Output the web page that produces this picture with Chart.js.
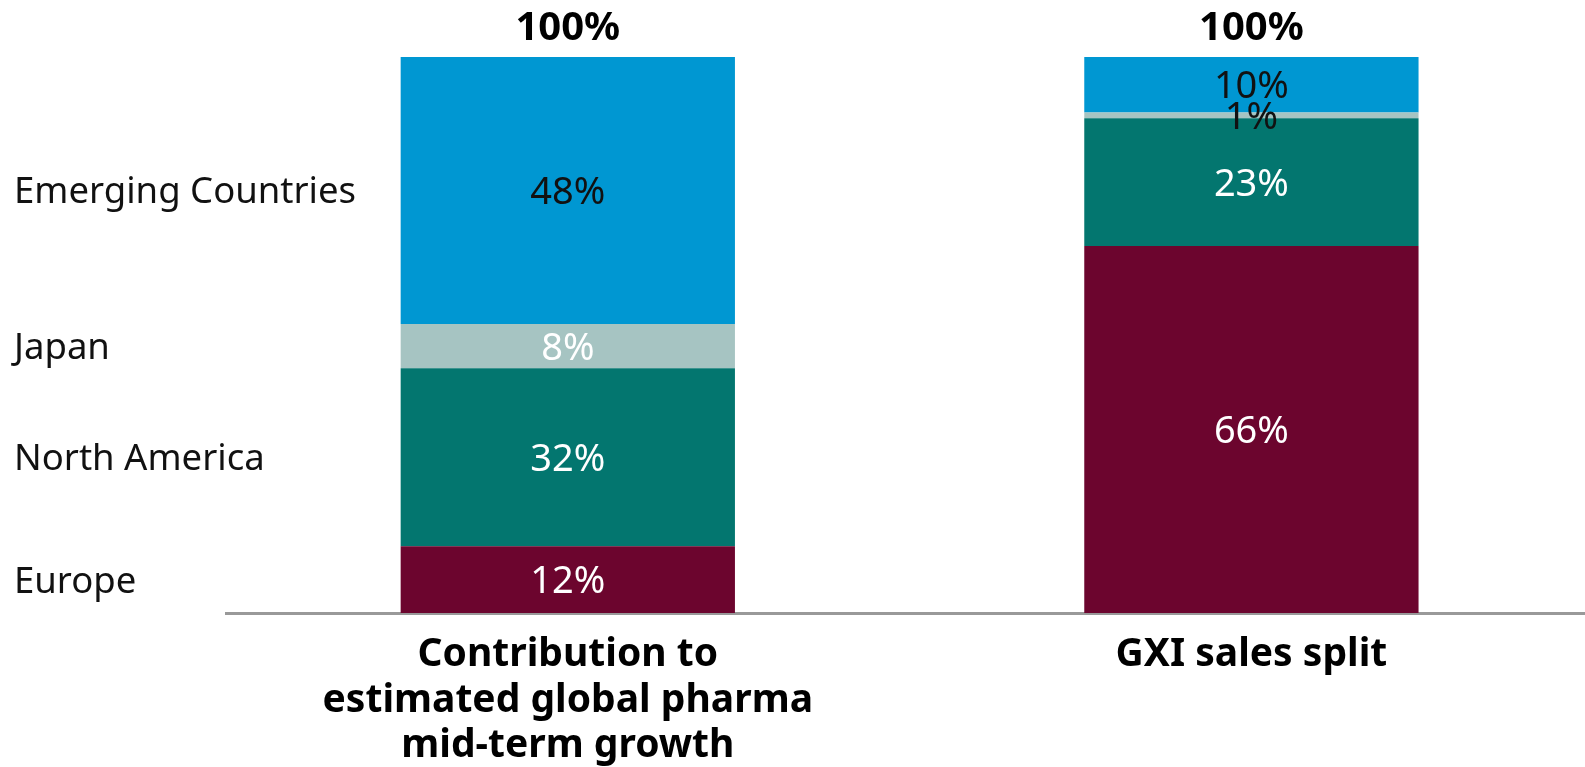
<!DOCTYPE html>
<html lang="en">
<head>
  <meta charset="UTF-8">
  <title>Regional split</title>
  <script src="https://cdn.jsdelivr.net/npm/chart.js"></script>
  <style>
    html, body {
      margin: 0;
      padding: 0;
      background: #fff;
      overflow: hidden;
    }
    #wrap {
      width: 1585px;
      height: 767px;
      position: relative;
    }
  </style>
</head>
<body>
  <div id="wrap"><canvas id="splitChart"></canvas></div>

  <script>
    // bars, left to right
    const categories = [
      ['Contribution to', 'estimated global pharma', 'mid-term growth'],
      'GXI sales split'
    ];

    // stacked from the bottom up
    const regions = ['Europe', 'North America', 'Japan', 'Emerging Countries'];
    const europe = [12, 66];
    const northAmerica = [32, 23];
    const japan = [8, 1];
    const emerging = [48, 10];

    const regionColors = ['#6c052e', '#03766f', '#a6c4c2', '#0097d2'];
    const valueColors = ['#fff', '#fff', '#fff', '#111'];

    const FONT = "'Noto Sans', sans-serif";
    const CAP = 0.357; // half the cap height of Noto Sans, in em

    const series = [europe, northAmerica, japan, emerging];
    const totals = categories.map((_, i) => series.reduce((s, arr) => s + arr[i], 0));

    // value in each segment, region names beside the first bar, totals on top
    const labelPlugin = {
      id: 'segmentLabels',
      afterDatasetsDraw(chart) {
        const ctx = chart.ctx;
        const xScale = chart.scales.x;
        const yScale = chart.scales.y;
        ctx.save();
        ctx.textBaseline = 'alphabetic';

        chart.data.datasets.forEach((ds, di) => {
          const meta = chart.getDatasetMeta(di);
          meta.data.forEach((bar, i) => {
            const v = ds.data[i];
            const cy = (bar.y + bar.base) / 2;
            const h = Math.abs(bar.base - bar.y);
            ctx.font = '38px ' + FONT;
            ctx.textAlign = 'center';
            ctx.fillStyle = h < 30 ? '#111' : valueColors[di];
            ctx.fillText(v + '%', bar.x, cy + 38 * CAP);

            if (i === 0) {
              ctx.font = '36.5px ' + FONT;
              ctx.textAlign = 'left';
              ctx.fillStyle = '#111';
              ctx.fillText(ds.label, 14, cy + 36.5 * CAP);
            }
          });
        });

        ctx.font = 'bold 40px ' + FONT;
        ctx.textAlign = 'center';
        ctx.fillStyle = '#000';
        totals.forEach((t, i) => {
          ctx.fillText(t + '%', xScale.getPixelForValue(i), yScale.getPixelForValue(t) - 17);
        });
        ctx.restore();
      }
    };

    new Chart(document.getElementById('splitChart'), {
      type: 'bar',
      data: {
        labels: categories.map((_, i) => i),
        datasets: series.map((values, i) => ({
          label: regions[i],
          data: values,
          backgroundColor: regionColors[i],
          borderWidth: 0
        }))
      },
      options: {
        responsive: true,
        maintainAspectRatio: false,
        animation: false,
        layout: { padding: { top: 57, left: 226, right: 0, bottom: 0 } },
        datasets: { bar: { categoryPercentage: 1, barPercentage: 0.489 } },
        plugins: {
          legend: { display: false },
          tooltip: { enabled: false }
        },
        scales: {
          x: {
            type: 'linear',
            stacked: true,
            offset: false,
            bounds: 'data',
            min: -0.5,
            max: 1.488,
            afterBuildTicks: (scale) => {
              scale.ticks = categories.map((_, i) => ({ value: i }));
            },
            afterFit: (scale) => { scale.height = 154; },
            grid: { display: true, color: 'transparent', drawTicks: false, drawOnChartArea: false },
            border: { display: true, color: '#999', width: 3 },
            ticks: {
              padding: 19,
              maxRotation: 0,
              autoSkip: false,
              color: '#000',
              font: { family: FONT, size: 39, weight: 'bold', lineHeight: 1.17 },
              callback: (v) => categories[v]
            }
          },
          y: {
            stacked: true,
            display: false,
            min: 0,
            max: 100
          }
        }
      },
      plugins: [labelPlugin]
    });
  </script>
</body>
</html>
